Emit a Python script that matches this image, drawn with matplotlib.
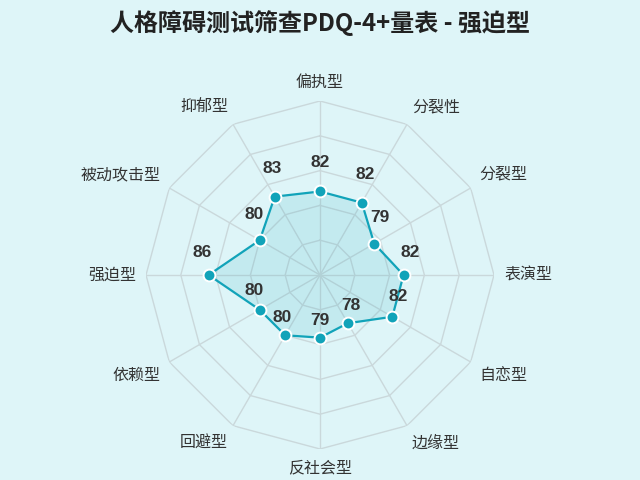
import numpy as np
import matplotlib
matplotlib.use("Agg")
import matplotlib.pyplot as plt

plt.rcParams['font.family'] = ['Noto Sans CJK SC', 'DejaVu Sans']

title = "人格障碍测试筛查PDQ-4+量表 - 强迫型"
categories = ["偏执型", "分裂性", "分裂型", "表演型", "自恋型", "边缘型",
              "反社会型", "回避型", "依赖型", "强迫型", "被动攻击型", "抑郁型"]
values = [82, 82, 79, 82, 82, 78, 79, 80, 80, 86, 80, 83]
r_min, r_max = 70, 95
ring_levels = [75, 80, 85, 90, 95]

bg = '#def5f8'
line_c = '#11a3b9'
grid_c = '#cad8db'

fig = plt.figure(figsize=(6.4, 4.8), dpi=100, facecolor=bg)
R_px = 174
cx, cy = 320, 275
ax = fig.add_axes([(cx - R_px) / 640, (480 - cy - R_px) / 480, 2 * R_px / 640, 2 * R_px / 480],
                  projection='polar')
ax.set_facecolor('none')
ax.set_theta_zero_location('N')
ax.set_theta_direction(-1)
ax.set_ylim(r_min, r_max)
ax.grid(False)
ax.spines['polar'].set_visible(False)
ax.set_xticks([])
ax.set_yticks([])

n = len(categories)
angles = np.arange(n) * 2 * np.pi / n
closed = np.append(angles, angles[0])

# polygon rings
for lv in ring_levels:
    ax.plot(closed, [lv] * (n + 1), color=grid_c, lw=1, zorder=1)
# spokes
for a in angles:
    ax.plot([a, a], [r_min, r_max], color=grid_c, lw=1, zorder=1)

vals_closed = values + [values[0]]
ax.fill(closed, vals_closed, color=line_c, alpha=0.13, zorder=2, lw=0)
ax.plot(closed, vals_closed, color=line_c, lw=1.6, zorder=3)
ax.plot(angles, values, 'o', color=line_c, ms=8.5, mec='white', mew=1.4, zorder=4)

# value labels
for a, v in zip(angles, values):
    dx = 4.5 * np.sin(a)
    dy = 16.5 + 4.5 * np.cos(a)
    ax.annotate(str(v), (a, v), xytext=(dx, dy), textcoords='offset points',
                ha='center', va='center', fontsize=12.5, fontweight='bold',
                color='#333333', family=['Liberation Sans', 'DejaVu Sans'], zorder=5)

# category labels
label_r = r_max + (r_max - r_min) * 10 / R_px
for a, c in zip(angles, categories):
    s, co = np.sin(a), np.cos(a)
    ha = 'center' if abs(s) < 1e-3 else ('left' if s > 0 else 'right')
    va = 'center' if abs(co) < 1e-3 else ('bottom' if co > 0 else 'top')
    ax.text(a, label_r, c, ha=ha, va=va, fontsize=11.5, color='#333333', clip_on=False)

fig.text(0.5, 1 - 23 / 480, title, ha='center', va='center', fontsize=17.3,
         fontweight='bold', color='#222222')

fig.savefig('out.png', dpi=100, facecolor=bg)
